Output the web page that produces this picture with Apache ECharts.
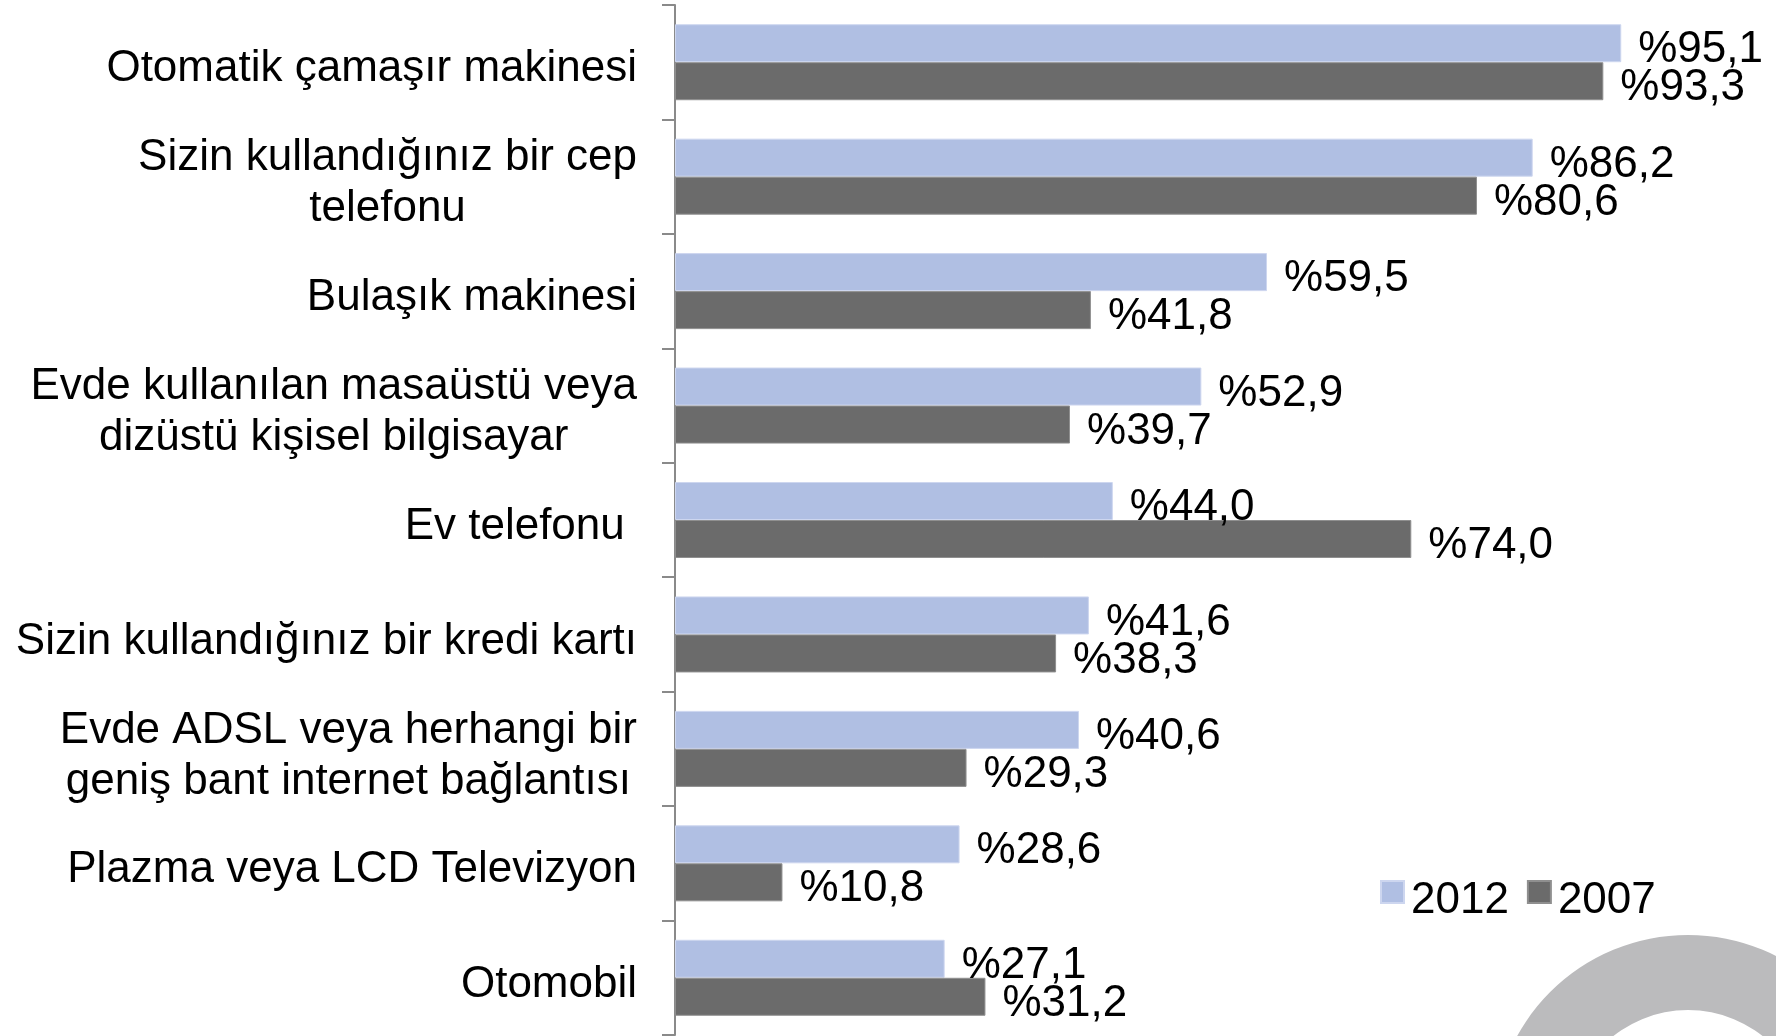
<!DOCTYPE html>
<html>
<head>
<meta charset="utf-8">
<script src="https://cdn.jsdelivr.net/npm/echarts@6/dist/echarts.min.js"></script>
<style>
  html, body { margin: 0; padding: 0; background: #ffffff; }
  #chart { width: 1776px; height: 1036px; }
</style>
</head>
<body>
<div id="chart"></div>
<script>
// Household ownership of durable goods, 2012 vs 2007 (%)
const categories = [
  'Otomatik çamaşır makinesi',
  'Sizin kullandığınız bir cep\ntelefonu',
  'Bulaşık makinesi',
  'Evde kullanılan masaüstü veya\ndizüstü kişisel bilgisayar',
  'Ev telefonu ',
  'Sizin kullandığınız bir kredi kartı',
  'Evde ADSL veya herhangi bir\ngeniş bant internet bağlantısı',
  'Plazma veya LCD Televizyon',
  'Otomobil'
];
const seriesNames = ['2012', '2007'];
const values2012 = [95.1, 86.2, 59.5, 52.9, 44.0, 41.6, 40.6, 28.6, 27.1];
const values2007 = [93.3, 80.6, 41.8, 39.7, 74.0, 38.3, 29.3, 10.8, 31.2];

const FONT = '"Liberation Sans", Arial, Helvetica, sans-serif';
const AXIS_GRAY = '#8a8a8a';

// "%95,1" style: percent sign first, decimal comma
const pctLabel = (p) => '%' + Number(p.value).toFixed(1).replace('.', ',');

const chart = echarts.init(document.getElementById('chart'), null, { renderer: 'canvas' });

const valueLabel = {
  show: true,
  position: 'right',
  distance: 17,
  offset: [0, 7],
  color: '#000000',
  fontFamily: FONT,
  fontSize: 44,
  formatter: pctLabel
};

chart.setOption({
  animation: false,
  backgroundColor: '#ffffff',
  textStyle: { fontFamily: FONT },
  grid: { left: 675, right: 106, top: 5, bottom: 1, containLabel: false },
  xAxis: {
    type: 'value',
    min: 0,
    max: 100,
    show: false
  },
  yAxis: {
    type: 'category',
    inverse: true,
    data: categories,
    axisLine: { show: true, lineStyle: { color: AXIS_GRAY, width: 2 } },
    axisTick: { show: true, length: 13, lineStyle: { color: AXIS_GRAY, width: 2 } },
    splitLine: { show: false },
    axisLabel: {
      margin: 38,
      color: '#000000',
      fontFamily: FONT,
      fontSize: 44,
      lineHeight: 51,
      padding: [14, 0, 0, 0],
      // each line centred within the right-aligned label block
      formatter: (v) => v.split('\n').map((s) => '{c|' + s + '}').join('\n'),
      rich: {
        c: { align: 'center', fontFamily: FONT, fontSize: 44, lineHeight: 51, color: '#000000' }
      }
    }
  },
  legend: {
    data: seriesNames,
    left: 1375,
    top: 874,
    orient: 'horizontal',
    icon: 'rect',
    itemWidth: 23,
    itemHeight: 22,
    itemGap: 18,
    formatter: '{t|{name}}',
    textStyle: {
      fontFamily: FONT,
      fontSize: 44,
      color: '#000000',
      rich: {
        t: { fontFamily: FONT, fontSize: 44, color: '#000000', padding: [18, 0, 0, 2] }
      }
    }
  },
  graphic: [
    {
      type: 'ring',
      z: -10,
      silent: true,
      shape: { cx: 1688, cy: 1130, r: 195, r0: 120 },
      style: { fill: '#bbbbbd' }
    }
  ],
  series: [
    {
      name: seriesNames[0],
      type: 'bar',
      data: values2012,
      barWidth: 38,
      barGap: '0%',
      itemStyle: { color: '#b0bfe3', borderColor: '#cdd6ef', borderWidth: 1 },
      label: valueLabel
    },
    {
      name: seriesNames[1],
      type: 'bar',
      data: values2007,
      barWidth: 38,
      barGap: '0%',
      itemStyle: { color: '#6b6b6b', borderColor: '#8f8f8f', borderWidth: 1 },
      label: valueLabel
    }
  ]
});
</script>
</body>
</html>
